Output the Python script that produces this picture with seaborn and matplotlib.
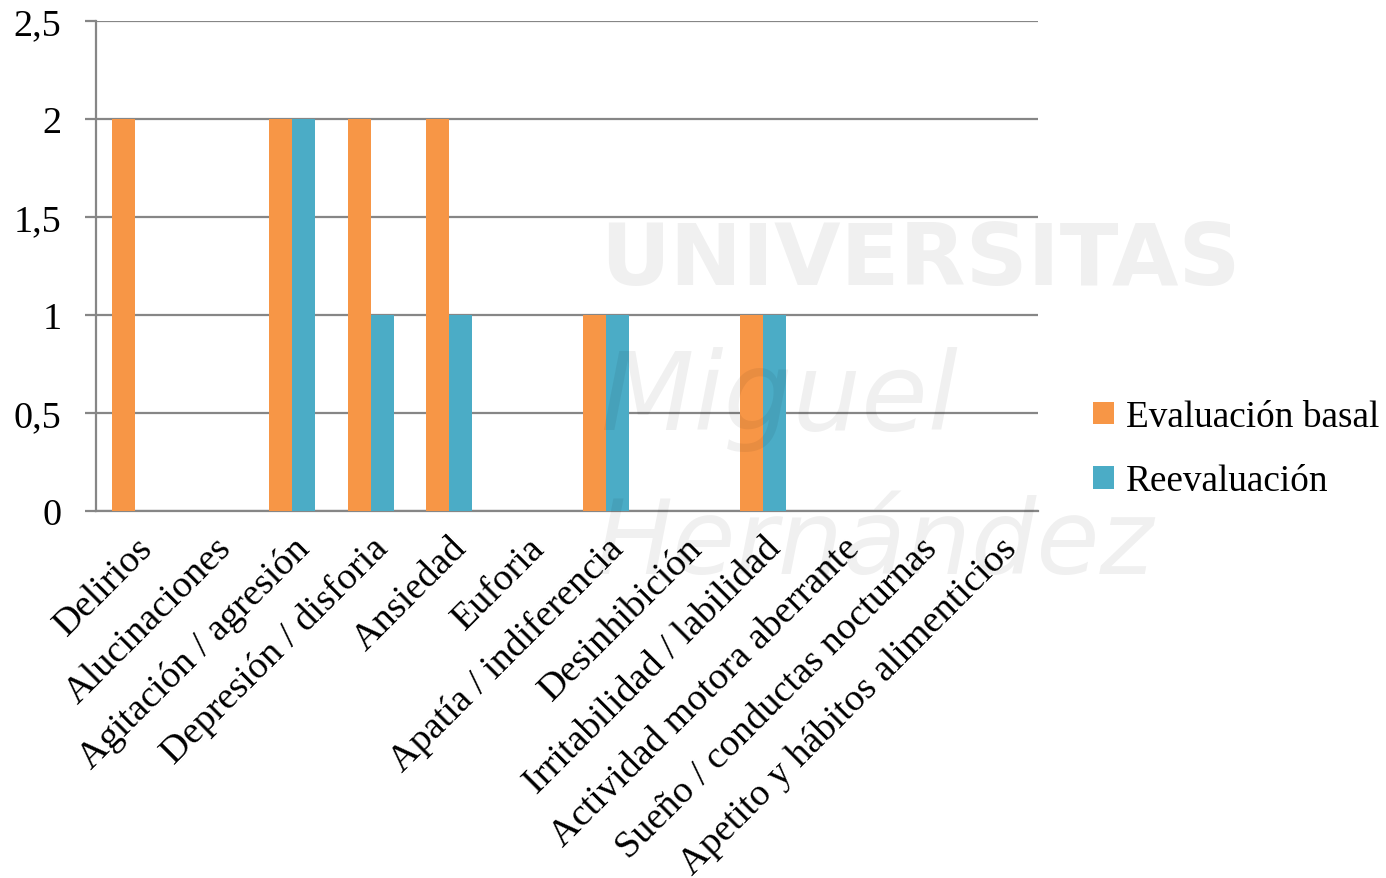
import matplotlib
matplotlib.use("Agg")
import matplotlib.pyplot as plt
from matplotlib.patches import Patch
import seaborn as sns
import pandas as pd
import numpy as np

categories = [
    "Delirios", "Alucinaciones", "Agitación / agresión", "Depresión / disforia",
    "Ansiedad", "Euforia", "Apatía / indiferencia", "Desinhibición",
    "Irritabilidad / labilidad", "Actividad motora aberrante",
    "Sueño / conductas nocturnas", "Apetito y hábitos alimenticios",
]
basal = [2, 0, 2, 2, 2, 0, 1, 0, 1, 0, 0, 0]
reevaluacion = [0, 0, 2, 1, 1, 0, 1, 0, 1, 0, 0, 0]
series_names = ["Evaluación basal", "Reevaluación"]
colors = ["#F79646", "#4BACC6"]
y_ticks = [0, 0.5, 1, 1.5, 2, 2.5]
y_labels = ["0", "0,5", "1", "1,5", "2", "2,5"]

df = pd.DataFrame({
    "categoria": categories * 2,
    "valor": basal + reevaluacion,
    "serie": [series_names[0]] * len(categories) + [series_names[1]] * len(categories),
})

sns.set_style("white")
plt.rcParams["font.family"] = ["Liberation Serif", "DejaVu Serif"]
plt.rcParams["text.color"] = "black"
plt.rcParams["xtick.color"] = "black"
plt.rcParams["ytick.color"] = "black"

FS = 27.5
GRID = "#868686"

fig = plt.figure(figsize=(13.86, 8.79), dpi=100)
ax = fig.add_axes([96 / 1386, 1 - 512 / 879, (1038 - 96) / 1386, (512 - 22) / 879])

# faint watermark over the plot area
wm_color = (0, 0, 0, 0.06)
fig.text(600 / 1386, 1 - 262 / 879, "UNIVERSITAS", fontsize=62, fontweight="bold",
         family="DejaVu Sans", color=wm_color, va="center", ha="left", zorder=10)
fig.text(600 / 1386, 1 - 400 / 879, "Miguel", fontsize=78, style="italic",
         family="DejaVu Sans", color=wm_color, va="center", ha="left", zorder=10)
fig.text(595 / 1386, 1 - 545 / 879, "Hernández", fontsize=74, style="italic",
         family="DejaVu Sans", color=wm_color, va="center", ha="left", zorder=10)

sns.barplot(data=df, x="categoria", y="valor", hue="serie", order=categories,
            hue_order=series_names, palette=colors, width=0.59, gap=0,
            saturation=1, linewidth=0, ax=ax, legend=False, zorder=3)

ax.set_xlim(-0.5, len(categories) - 0.5)
ax.set_ylim(0, 2.5)
ax.set_yticks(y_ticks)
ax.set_yticklabels(y_labels, fontsize=FS)
ax.grid(axis="y", color=GRID, linewidth=1.6, zorder=0)
ax.set_axisbelow(True)
ax.set_xlabel("")
ax.set_ylabel("")

for s in ["top", "right"]:
    ax.spines[s].set_visible(False)
for s in ["left", "bottom"]:
    ax.spines[s].set_color(GRID)
    ax.spines[s].set_linewidth(1.6)

ax.set_xticks(range(len(categories)))
ax.set_xticklabels(categories, rotation=45, ha="right", rotation_mode="anchor",
                   fontsize=FS)
ax.set_xticks(np.arange(-0.5, len(categories)), minor=True)
ax.tick_params(axis="x", which="major", length=0, pad=14)
ax.tick_params(axis="x", which="minor", length=8, width=1.6, color=GRID, direction="out")
ax.tick_params(axis="y", which="major", length=8, width=1.6, color=GRID,
               direction="out", pad=17, left=True)

handles = [Patch(facecolor=c, edgecolor="none") for c in colors]
fig.legend(handles, series_names, loc="center left",
           bbox_to_anchor=(1093 / 1386, 1 - 450 / 879), frameon=False,
           fontsize=26.8, handlelength=0.56, handleheight=0.56,
           handletextpad=0.32, labelspacing=0.8, borderpad=0, borderaxespad=0)

fig.savefig("out.png", dpi=100, facecolor="white")
